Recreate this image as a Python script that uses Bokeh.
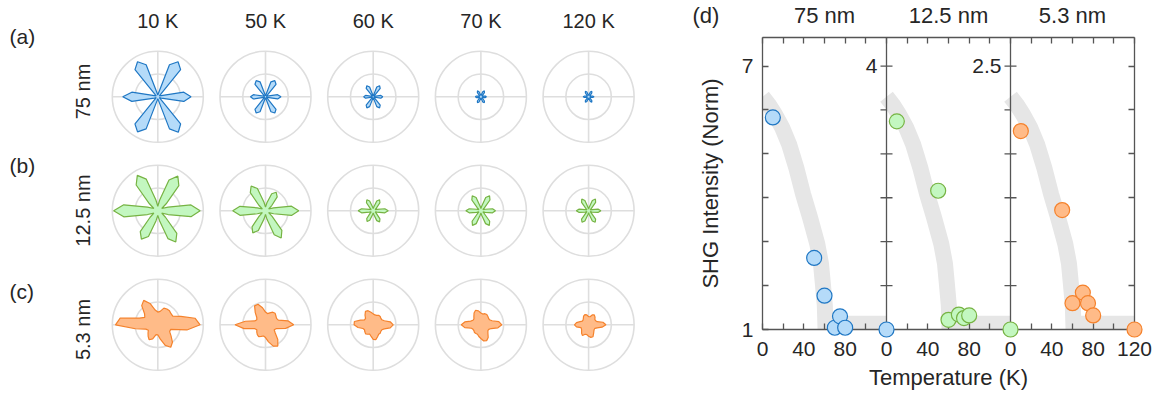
import numpy as np
from bokeh.plotting import figure
from bokeh.models import Range1d, LinearAxis, FixedTicker, Span
from bokeh.layouts import row, column
from bokeh.embed import file_html
from bokeh.resources import INLINE
from bokeh.core.properties import value

FONT = "Liberation Sans"
TXT = "#262626"

# ---------------- data: polar SHG patterns ----------------
temps_polar = ["10 K", "50 K", "60 K", "70 K", "120 K"]
thickness = ["75 nm", "12.5 nm", "5.3 nm"]
panel_tags = ["(a)", "(b)", "(c)"]
angles_deg = list(range(0, 360, 10))

r_75nm_10K = [0.73, 0.58, 0.08, 0.04, 0.08, 0.78, 0.89, 0.75, 0.08, 0.04, 0.08, 0.75,
              0.89, 0.78, 0.08, 0.04, 0.08, 0.58, 0.77, 0.58, 0.08, 0.04, 0.08, 0.78,
              0.89, 0.75, 0.08, 0.04, 0.08, 0.75, 0.90, 0.78, 0.08, 0.04, 0.08, 0.58]
r_75nm_50K = [0.34, 0.27, 0.04, 0.02, 0.04, 0.36, 0.41, 0.35, 0.04, 0.02, 0.04, 0.35,
              0.41, 0.36, 0.04, 0.02, 0.04, 0.27, 0.33, 0.27, 0.04, 0.02, 0.04, 0.36,
              0.41, 0.35, 0.04, 0.02, 0.04, 0.35, 0.41, 0.36, 0.04, 0.02, 0.04, 0.27]
r_75nm_60K = [0.21, 0.17, 0.03, 0.02, 0.03, 0.24, 0.28, 0.23, 0.03, 0.02, 0.03, 0.23,
              0.28, 0.24, 0.03, 0.02, 0.03, 0.17, 0.21, 0.17, 0.03, 0.02, 0.03, 0.24,
              0.28, 0.23, 0.03, 0.02, 0.03, 0.23, 0.28, 0.24, 0.03, 0.02, 0.03, 0.17]
r_75nm_70K = [0.12, 0.10, 0.04, 0.03, 0.04, 0.12, 0.15, 0.12, 0.04, 0.03, 0.04, 0.12,
              0.15, 0.12, 0.04, 0.03, 0.04, 0.10, 0.12, 0.10, 0.04, 0.03, 0.04, 0.12,
              0.15, 0.12, 0.04, 0.03, 0.04, 0.12, 0.15, 0.12, 0.04, 0.03, 0.04, 0.10]
r_75nm_120K = [0.12, 0.09, 0.04, 0.03, 0.04, 0.11, 0.14, 0.11, 0.04, 0.03, 0.04, 0.11,
               0.14, 0.11, 0.04, 0.03, 0.04, 0.09, 0.12, 0.09, 0.04, 0.03, 0.04, 0.11,
               0.14, 0.11, 0.04, 0.03, 0.04, 0.11, 0.14, 0.11, 0.04, 0.03, 0.04, 0.09]

r_12nm_10K = [0.93, 0.74, 0.24, 0.10, 0.24, 0.72, 0.88, 0.72, 0.24, 0.10, 0.24, 0.74,
              0.90, 0.74, 0.24, 0.10, 0.24, 0.76, 0.97, 0.76, 0.24, 0.10, 0.22, 0.60,
              0.72, 0.60, 0.22, 0.10, 0.22, 0.65, 0.79, 0.65, 0.22, 0.10, 0.24, 0.74]
r_12nm_50K = [0.73, 0.58, 0.19, 0.08, 0.18, 0.40, 0.47, 0.40, 0.18, 0.08, 0.19, 0.52,
              0.63, 0.52, 0.19, 0.08, 0.19, 0.57, 0.72, 0.57, 0.19, 0.08, 0.18, 0.46,
              0.56, 0.46, 0.18, 0.08, 0.19, 0.56, 0.69, 0.56, 0.19, 0.08, 0.19, 0.58]
r_12nm_60K = [0.33, 0.26, 0.09, 0.05, 0.09, 0.23, 0.28, 0.23, 0.09, 0.05, 0.09, 0.23,
              0.28, 0.23, 0.09, 0.05, 0.09, 0.26, 0.33, 0.26, 0.09, 0.05, 0.09, 0.22,
              0.27, 0.22, 0.09, 0.05, 0.09, 0.23, 0.28, 0.23, 0.09, 0.05, 0.09, 0.26]
r_12nm_70K = [0.32, 0.26, 0.10, 0.05, 0.10, 0.31, 0.38, 0.31, 0.10, 0.05, 0.10, 0.31,
              0.38, 0.31, 0.10, 0.05, 0.10, 0.26, 0.33, 0.26, 0.10, 0.05, 0.10, 0.30,
              0.37, 0.30, 0.10, 0.05, 0.10, 0.30, 0.37, 0.30, 0.10, 0.05, 0.10, 0.26]
r_12nm_120K = [0.27, 0.21, 0.08, 0.04, 0.08, 0.24, 0.30, 0.24, 0.08, 0.04, 0.08, 0.24,
               0.30, 0.24, 0.08, 0.04, 0.08, 0.21, 0.27, 0.21, 0.08, 0.04, 0.08, 0.24,
               0.29, 0.24, 0.08, 0.04, 0.08, 0.24, 0.29, 0.24, 0.08, 0.04, 0.08, 0.21]

r_5nm_10K = [0.93, 0.83, 0.54, 0.38, 0.38, 0.40, 0.40, 0.39, 0.30, 0.28, 0.33, 0.50,
             0.62, 0.55, 0.38, 0.33, 0.43, 0.84, 0.93, 0.50, 0.28, 0.24, 0.28, 0.33,
             0.38, 0.33, 0.22, 0.22, 0.32, 0.48, 0.57, 0.50, 0.38, 0.30, 0.30, 0.65]
r_5nm_50K = [0.62, 0.50, 0.30, 0.28, 0.30, 0.33, 0.32, 0.28, 0.25, 0.28, 0.38, 0.48,
             0.48, 0.35, 0.25, 0.22, 0.25, 0.45, 0.67, 0.48, 0.25, 0.22, 0.25, 0.28,
             0.30, 0.27, 0.25, 0.28, 0.38, 0.50, 0.54, 0.42, 0.28, 0.22, 0.25, 0.45]
r_5nm_60K = [0.44, 0.38, 0.26, 0.22, 0.22, 0.24, 0.24, 0.22, 0.22, 0.24, 0.28, 0.33,
             0.34, 0.28, 0.22, 0.22, 0.30, 0.42, 0.42, 0.34, 0.24, 0.22, 0.24, 0.26,
             0.24, 0.22, 0.26, 0.32, 0.33, 0.28, 0.24, 0.24, 0.22, 0.22, 0.26, 0.38]
r_5nm_70K = [0.46, 0.40, 0.26, 0.22, 0.22, 0.24, 0.26, 0.26, 0.24, 0.26, 0.31, 0.34,
             0.30, 0.24, 0.20, 0.20, 0.24, 0.36, 0.43, 0.36, 0.22, 0.20, 0.20, 0.22,
             0.22, 0.22, 0.26, 0.30, 0.36, 0.37, 0.32, 0.24, 0.20, 0.20, 0.24, 0.38]
r_5nm_120K = [0.38, 0.32, 0.20, 0.18, 0.18, 0.22, 0.25, 0.23, 0.18, 0.18, 0.22, 0.24,
              0.22, 0.18, 0.16, 0.16, 0.20, 0.27, 0.31, 0.27, 0.18, 0.18, 0.20, 0.24,
              0.27, 0.22, 0.22, 0.25, 0.28, 0.28, 0.22, 0.18, 0.16, 0.16, 0.20, 0.30]

polar_rows = [
    [r_75nm_10K, r_75nm_50K, r_75nm_60K, r_75nm_70K, r_75nm_120K],
    [r_12nm_10K, r_12nm_50K, r_12nm_60K, r_12nm_70K, r_12nm_120K],
    [r_5nm_10K, r_5nm_50K, r_5nm_60K, r_5nm_70K, r_5nm_120K],
]
row_fill = ["#b5dbf9", "#c3f7c0", "#ffbb88"]
row_line = ["#1f77c4", "#76b343", "#f5822c"]

# ---------------- data: temperature dependence ----------------
panel_titles = ["75 nm", "12.5 nm", "5.3 nm"]
T_75nm = [10, 50, 60, 70, 75, 80, 120]
I_75nm = [5.83, 2.63, 1.77, 1.04, 1.30, 1.04, 1.00]
T_12nm = [10, 50, 60, 70, 75, 80, 120]
I_12nm = [3.37, 2.58, 1.11, 1.17, 1.13, 1.16, 1.00]
T_5nm = [10, 50, 60, 70, 75, 80, 120]
I_5nm = [2.13, 1.68, 1.15, 1.21, 1.15, 1.08, 1.00]
band_T = [0, 6, 12, 19, 25.7, 32.5, 39.3, 46, 53, 56.6, 58.4, 60.3, 61, 61]
band_I = [6.3, 6.12, 5.9, 5.6, 5.22, 4.7, 4.08, 3.55, 2.95, 2.5, 2.05, 1.55, 1.0, 0.7]
floor_T = [61, 120]
floor_I = [1.13, 1.13]
panel_top = [7, 4, 2.5]
y_ticks = [1, 2, 3, 4, 5, 6, 7]
y_tick_labels = {1: "1", 7: "7"}
x_ticks_panel = [0, 20, 40, 60, 80, 100, 120]
x_label_ticks = [0, 40, 80]

# ---------------- left: polar grid ----------------
WL, H = 690, 390
COL_X0, COL_DX = 157.3, 107.7
ROW_Y0, ROW_DY = 293.7, 114.0
R = 45.5

left = figure(width=WL, height=H, x_range=Range1d(0, WL), y_range=Range1d(0, H),
              output_backend="svg", toolbar_location=None, min_border=0,
              x_axis_location=None, y_axis_location=None)
left.frame_align = False
left.grid.visible = False
left.outline_line_color = None
left.background_fill_color = "white"

cxs, cys = [], []
for ri in range(3):
    for ci in range(5):
        cxs.append(COL_X0 + ci * COL_DX)
        cys.append(ROW_Y0 - ri * ROW_DY)
cxs = np.array(cxs)
cys = np.array(cys)
ring = "#dedede"
left.circle(x=cxs, y=cys, radius=R, fill_color=None, line_color=ring, line_width=1.6)
left.circle(x=cxs, y=cys, radius=R / 2, fill_color=None, line_color=ring, line_width=1.6)
left.segment(x0=cxs - R, y0=cys, x1=cxs + R, y1=cys, line_color=ring, line_width=1.6)
left.segment(x0=cxs, y0=cys - R, x1=cxs, y1=cys + R, line_color=ring, line_width=1.6)

th = np.deg2rad(angles_deg)
for ri in range(3):
    xs, ys = [], []
    for ci in range(5):
        r = np.array(polar_rows[ri][ci]) * R
        cx = COL_X0 + ci * COL_DX
        cy = ROW_Y0 - ri * ROW_DY
        xs.append(list(cx + r * np.cos(th)))
        ys.append(list(cy + r * np.sin(th)))
    left.patches(xs, ys, fill_color=row_fill[ri], line_color=row_line[ri], line_width=1.2)

left.text(x=[COL_X0 + ci * COL_DX for ci in range(5)], y=[370] * 5, text=temps_polar,
          text_font=value(FONT), text_font_size="20px", text_color=TXT,
          text_align="center", text_baseline="middle")
left.text(x=[9, 9, 9], y=[354, 225, 99], text=panel_tags,
          text_font=value(FONT), text_font_size="21px", text_color=TXT,
          text_align="left", text_baseline="middle")
left.text(x=[82, 82, 82], y=[299, 180, 61], text=thickness, angle=np.pi / 2,
          text_font=value(FONT), text_font_size="20px", text_color=TXT,
          text_align="center", text_baseline="middle")

# ---------------- right: temperature panels ----------------
YMAX = 7.65
WR = 465
STRIP_H = 30
BL, BR = 72, 21                      # left / right borders of the panel frame
right = figure(width=WR, height=367, x_range=Range1d(0, 360), y_range=Range1d(1, YMAX),
               output_backend="svg", toolbar_location=None,
               min_border_left=BL, min_border_right=BR, min_border_top=7, min_border_bottom=68,
               x_axis_location=None, y_axis_location=None)
right.frame_align = False
right.extra_x_ranges = {"p2": Range1d(-120, 240), "p3": Range1d(-240, 120)}
right.extra_y_ranges = {"p2": Range1d(1, 1 + (YMAX - 1) / 2), "p3": Range1d(1, 1 + (YMAX - 1) / 4)}
right.grid.visible = False
right.outline_line_color = None

AX = "#555555"
all_xt = []
overrides = {}
for k in range(3):
    for t in x_ticks_panel:
        pos = t + 120 * k
        if pos in all_xt:
            continue
        all_xt.append(pos)
        show = (t in x_label_ticks) or (k == 2 and t == 120)
        overrides[pos] = str(t) if show else ""
# at the dividers the label belongs to the next panel (its 0)
overrides[120] = "0"
overrides[240] = "0"


def style_axis(ax):
    ax.axis_line_color = AX
    ax.axis_line_width = 1.3
    ax.major_tick_line_color = AX
    ax.major_tick_line_width = 1.3
    ax.major_tick_in = 6
    ax.major_tick_out = 0
    ax.minor_tick_in = 0
    ax.minor_tick_out = 0
    ax.major_label_text_font = FONT
    ax.major_label_text_color = TXT
    ax.axis_label_text_font = FONT
    ax.axis_label_text_color = TXT
    ax.axis_label_text_font_style = "normal"


xb = LinearAxis(ticker=FixedTicker(ticks=all_xt), major_label_overrides=overrides,
                axis_label="Temperature (K)")
style_axis(xb)
xb.major_label_text_font_size = "21px"
xb.major_label_standoff = 12
xb.axis_label_text_font_size = "22px"
xb.axis_label_standoff = 6
right.add_layout(xb, "below")

xa = LinearAxis(ticker=FixedTicker(ticks=all_xt), major_label_overrides={t: "" for t in all_xt})
style_axis(xa)
xa.major_label_text_font_size = "1px"
xa.major_label_standoff = 0
right.add_layout(xa, "above")

yl = LinearAxis(ticker=FixedTicker(ticks=y_ticks),
                major_label_overrides={t: y_tick_labels.get(t, "") for t in y_ticks},
                axis_label="SHG Intensity (Norm)")
style_axis(yl)
yl.major_label_text_font_size = "21px"
yl.major_label_standoff = 9
yl.axis_label_text_font_size = "22px"
yl.axis_label_standoff = 16
right.add_layout(yl, "left")

yr = LinearAxis(ticker=FixedTicker(ticks=y_ticks), major_label_overrides={t: "" for t in y_ticks})
style_axis(yr)
yr.major_label_text_font_size = "1px"
yr.major_label_standoff = 0
right.add_layout(yr, "right")

# dividers between the three panels, with ticks on both sides
for xd in (120, 240):
    right.add_layout(Span(location=xd, dimension="height", line_color=AX, line_width=1.3))
right.scatter(x=[120] * len(y_ticks) + [240] * len(y_ticks), y=y_ticks * 2, marker="dash",
              size=12, line_color=AX, line_width=1.3)

# guide band
for rn in ("default", "p2", "p3"):
    right.line(band_T, band_I, x_range_name=rn, line_width=16, line_color="#e6e6e6",
               line_join="round")
    right.line(floor_T, floor_I, x_range_name=rn, line_width=16, line_color="#e6e6e6")

# data points
series = [(T_75nm, I_75nm, "default"), (T_12nm, I_12nm, "p2"), (T_5nm, I_5nm, "p3")]
for k, (T, I, rn) in enumerate(series):
    right.scatter(T, I, x_range_name=rn, y_range_name=rn, size=15,
                  fill_color=row_fill[k], line_color=row_line[k], line_width=1.2, level="overlay")

# top tick labels of panels 2 and 3 (drawn at their own axis, left of it)
right.text(x=[0], y=[panel_top[1]], text=[str(panel_top[1])], x_range_name="p2", y_range_name="p2",
           x_offset=-9, text_align="right", text_baseline="middle",
           text_font=value(FONT), text_font_size="21px", text_color=TXT)
right.text(x=[0], y=[panel_top[2]], text=[str(panel_top[2])], x_range_name="p3", y_range_name="p3",
           x_offset=-9, text_align="right", text_baseline="middle",
           text_font=value(FONT), text_font_size="21px", text_color=TXT)

# ---------------- strip with panel titles, same x scale as the panels ----------------
u_per_px = 360 / (WR - BL - BR)
strip = figure(width=WR, height=STRIP_H,
               x_range=Range1d(-BL * u_per_px, 360 + BR * u_per_px), y_range=Range1d(0, 1),
               output_backend="svg", toolbar_location=None, min_border=0,
               x_axis_location=None, y_axis_location=None)
strip.frame_align = False
strip.grid.visible = False
strip.outline_line_color = None
strip.text(x=[60, 180, 300], y=[0.5] * 3, text=panel_titles, text_align="center",
           text_baseline="middle", text_font=value(FONT), text_font_size="22px", text_color=TXT)
strip.text(x=[-BL * u_per_px], y=[0.5], text=["(d)"], x_offset=2, text_align="left",
           text_baseline="middle", text_font=value(FONT), text_font_size="22px", text_color=TXT)

layout = row(left, column(strip, right))
open("out.html", "w").write(file_html(layout, INLINE))
